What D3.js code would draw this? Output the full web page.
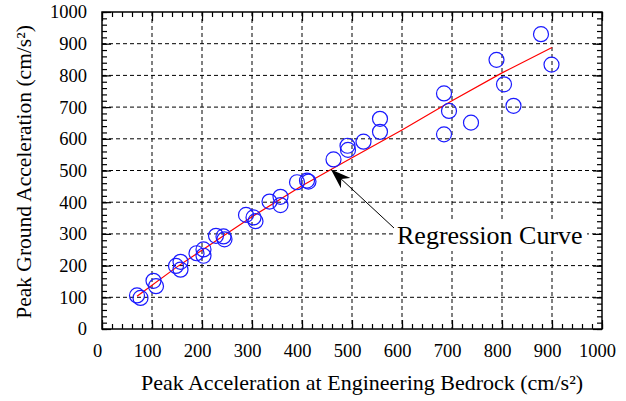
<!DOCTYPE html>
<html>
<head>
<meta charset="utf-8">
<script src="https://cdn.jsdelivr.net/npm/d3@7"></script>
<style>
  body { margin: 0; background: #fff; }
  text { font-family: "Liberation Serif", "Times New Roman", serif; fill: #000; }
</style>
</head>
<body>
<svg></svg>
<script>
// bedrock acceleration (x) and ground acceleration (y)
let bedrockAcc = [70, 77, 103, 108, 148, 157, 157, 189, 203, 203, 228, 243, 245,
    288, 303, 307, 335, 357, 357, 390, 410, 413, 463, 491, 492, 523, 556, 556,
    684, 694, 684, 738, 789, 804, 823, 878, 899];
let groundAcc = [106, 98, 152, 135, 199, 212, 187, 239, 251, 231, 294, 292, 283,
    360, 352, 340, 402, 417, 391, 463, 468, 465, 535, 578, 565, 591, 663, 622,
    743, 688, 614, 651, 849, 772, 704, 930, 834];

// regression curve, read at a few points
let curveX = [70, 150, 300, 400, 500, 600, 700, 800, 900];
let curveY = [103, 196, 354, 452, 540, 628, 720, 808, 888];

let tickValues = [0, 100, 200, 300, 400, 500, 600, 700, 800, 900, 1000];

let svgWidth = 626, svgHeight = 401;
let plotLeft = 102, plotRight = 602, plotTop = 12, plotBottom = 329;
let serif = '"Liberation Serif", "Times New Roman", serif';

let svg = d3.select("svg")
    .attr("width", svgWidth)
    .attr("height", svgHeight);

let xScale = d3.scaleLinear().domain([0, 1000]).range([plotLeft, plotRight]);
let yScale = d3.scaleLinear().domain([0, 1000]).range([plotBottom, plotTop]);

let minorTicks = d3.range(0, 1001, 20);

// dashed grid
let grid = svg.append("g");
grid.selectAll("line.gx")
    .data(tickValues.slice(1, -1))
    .enter().append("line")
    .attr("class", "gx")
    .attr("x1", d => xScale(d)).attr("x2", d => xScale(d))
    .attr("y1", plotTop).attr("y2", plotBottom)
    .attr("stroke", "#000").attr("stroke-width", 1)
    .attr("stroke-dasharray", "4,3");
grid.selectAll("line.gy")
    .data(tickValues.slice(1, -1))
    .enter().append("line")
    .attr("class", "gy")
    .attr("y1", d => yScale(d)).attr("y2", d => yScale(d))
    .attr("x1", plotLeft).attr("x2", plotRight)
    .attr("stroke", "#000").attr("stroke-width", 1)
    .attr("stroke-dasharray", "4,3");

// axes, ticks pointing inward on all four sides
function styleAxis(g) {
    g.attr("font-family", null).attr("font-size", null);
    g.select(".domain").remove();
    g.selectAll("line").attr("stroke", "#000").attr("stroke-width", 1.2);
    g.selectAll("text")
        .style("font-family", serif)
        .style("font-size", "18.5px");
}

let fmt = d3.format("d");

svg.append("g")
    .attr("transform", `translate(0, ${plotBottom})`)
    .call(d3.axisBottom(xScale).tickValues(minorTicks).tickSize(-5).tickFormat(""))
    .call(styleAxis);
svg.append("g")
    .attr("transform", `translate(0, ${plotBottom})`)
    .call(d3.axisBottom(xScale).tickValues(tickValues).tickFormat(fmt)
        .tickSizeInner(-9).tickSizeOuter(0).tickPadding(15))
    .call(styleAxis)
    .selectAll("text").attr("dx", -5);

svg.append("g")
    .attr("transform", `translate(0, ${plotTop})`)
    .call(d3.axisTop(xScale).tickValues(minorTicks).tickSize(-5).tickFormat(""))
    .call(styleAxis);
svg.append("g")
    .attr("transform", `translate(0, ${plotTop})`)
    .call(d3.axisTop(xScale).tickValues(tickValues).tickSize(-9).tickFormat(""))
    .call(styleAxis);

svg.append("g")
    .attr("transform", `translate(${plotLeft}, 0)`)
    .call(d3.axisLeft(yScale).tickValues(minorTicks).tickSize(-5).tickFormat(""))
    .call(styleAxis);
svg.append("g")
    .attr("transform", `translate(${plotLeft}, 0)`)
    .call(d3.axisLeft(yScale).tickValues(tickValues).tickFormat(fmt)
        .tickSizeInner(-9).tickSizeOuter(0).tickPadding(15))
    .call(styleAxis);

svg.append("g")
    .attr("transform", `translate(${plotRight}, 0)`)
    .call(d3.axisRight(yScale).tickValues(minorTicks).tickSize(-5).tickFormat(""))
    .call(styleAxis);
svg.append("g")
    .attr("transform", `translate(${plotRight}, 0)`)
    .call(d3.axisRight(yScale).tickValues(tickValues).tickSize(-9).tickFormat(""))
    .call(styleAxis);

// frame
svg.append("rect")
    .attr("x", plotLeft).attr("y", plotTop)
    .attr("width", plotRight - plotLeft).attr("height", plotBottom - plotTop)
    .attr("fill", "none").attr("stroke", "#000").attr("stroke-width", 1.5);

// regression curve
let line = d3.line()
    .x((d, i) => xScale(curveX[i]))
    .y(d => yScale(d));
svg.append("path")
    .datum(curveY)
    .attr("d", line)
    .attr("fill", "none")
    .attr("stroke", "#ff0000")
    .attr("stroke-width", 1.2);

// data points
svg.selectAll("circle.pt")
    .data(bedrockAcc)
    .enter().append("circle")
    .attr("class", "pt")
    .attr("cx", d => xScale(d))
    .attr("cy", (d, i) => yScale(groundAcc[i]))
    .attr("r", 7.5)
    .attr("fill", "none")
    .attr("stroke", "#1a1aff")
    .attr("stroke-width", 1.2);

// annotation
let labelX = 397, labelY = 244;
svg.append("rect")
    .attr("x", labelX - 2).attr("y", labelY - 22)
    .attr("width", 192).attr("height", 29)
    .attr("fill", "#fff");
svg.append("text")
    .attr("x", labelX).attr("y", labelY)
    .style("font-size", "26px")
    .text("Regression Curve");

svg.append("defs").append("marker")
    .attr("id", "head")
    .attr("viewBox", "0 0 20 14")
    .attr("refX", 20).attr("refY", 7)
    .attr("markerWidth", 20).attr("markerHeight", 14)
    .attr("markerUnits", "userSpaceOnUse")
    .attr("orient", "auto")
    .append("path")
    .attr("d", "M0,0 L20,7 L0,14 L6,7 Z")
    .attr("fill", "#000");

svg.append("line")
    .attr("x1", 394).attr("y1", 228)
    .attr("x2", xScale(458)).attr("y2", yScale(503))
    .attr("stroke", "#000").attr("stroke-width", 1)
    .attr("marker-end", "url(#head)");

// axis titles
svg.append("text")
    .attr("x", 362).attr("y", 390)
    .attr("text-anchor", "middle")
    .style("font-size", "22px")
    .text("Peak Acceleration at Engineering Bedrock (cm/s²)");

svg.append("text")
    .attr("transform", "translate(31, 172) rotate(-90)")
    .attr("text-anchor", "middle")
    .style("font-size", "21.5px")
    .text("Peak Ground Acceleration (cm/s²)");
</script>
</body>
</html>
